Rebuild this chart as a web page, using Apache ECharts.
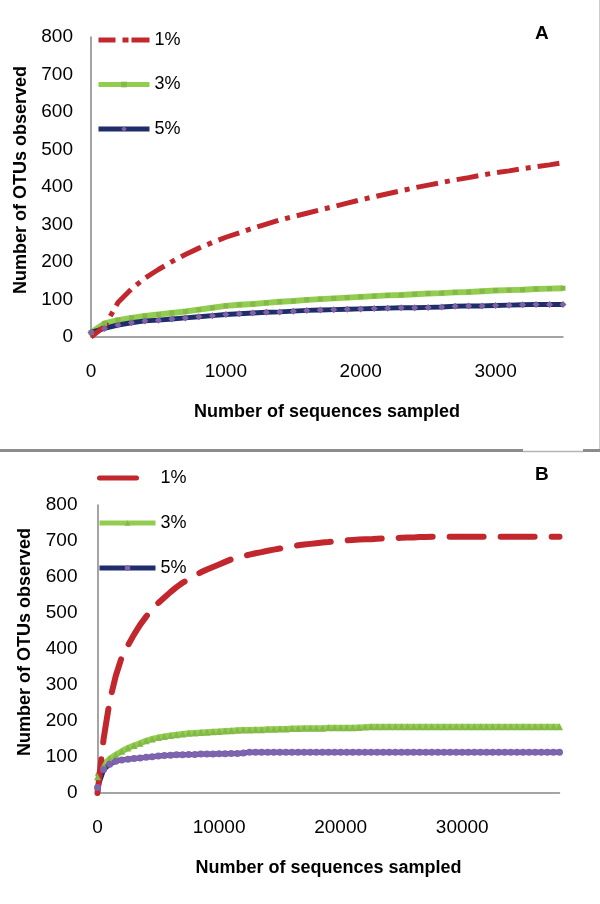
<!DOCTYPE html>
<html><head><meta charset="utf-8">
<script src="https://cdn.jsdelivr.net/npm/echarts@6/dist/echarts.min.js"></script>
<style>html,body{margin:0;padding:0;background:#fff}#c{width:600px;height:904px}</style>
</head><body><div id="c"></div>
<script>
// ---------- DATA ----------
const seriesLabels = ['1%', '3%', '5%'];
const panelTitles = ['A', 'B'];
const xTitle = 'Number of sequences sampled';
const yTitle = 'Number of OTUs observed';

// Panel A: sequences sampled (x) and OTUs observed
const xA = [0,100,200,300,400,500,600,700,800,900,1000,1100,1200,1300,1400,1500,1600,1700,1800,1900,2000,
            2100,2200,2300,2400,2500,2600,2700,2800,2900,3000,3100,3200,3300,3400,3500];
const a1 = [0,28,92,128,157,180,201,220,237,252,266,278,290,301,312,321,330,339,348,357,366,
            374,382,390,398,405,412,419,425,432,438,443,449,454,459,465];
const a3 = [12,36,45,51,56,60,64,68,73,78,83,86,88,91,94,96,99,101,103,105,107,
            109,111,112,114,116,117,119,120,122,124,125,126,128,129,130];
const a5 = [12,23,32,38,43,45,48,51,54,57,60,62,64,66,67,69,71,72,73,74,75,
            76,77,78,78,79,80,82,83,83,84,85,86,87,87,87];

// Panel B
const xB = [0,500,1000,1500,2000,2500,3000,3500,4000,4500,5000,5500,6000,6500,7000,7500,8000,8500,9000,9500,
            10000,10500,11000,11500,12000,12500,13000,13500,14000,14500,15000,15500,16000,16500,17000,17500,18000,18500,19000,19500,
            20000,20500,21000,21500,22000,22500,23000,23500,24000,24500,25000,25500,26000,26500,27000,27500,28000,28500,29000,29500,
            30000,30500,31000,31500,32000,32500,33000,33500,34000,34500,35000,35500,36000,36500,37000,37500,38000];
const b1 = [0,150,255,325,378,410,440,467,490,510,528,543,558,572,584,594,604,613,621,628,
            635,642,649,654,658,662,666,669,673,676,679,682,685,688,690,692,694,696,697,699,
            701,702,703,704,705,705,706,707,708,708,709,710,710,711,711,712,712,712,712,712,
            712,712,712,712,712,712,712,712,712,712,712,712,712,712,712,712,712];
const b3 = [45,78,95,106,116,125,132,138,145,150,154,157,160,162,164,166,167,168,169,170,
            171,172,173,174,175,175,176,176,177,177,178,178,179,179,180,180,180,180,181,181,
            181,181,181,182,183,184,184,184,184,184,184,184,184,184,184,184,184,184,184,184,
            184,184,184,184,184,184,184,184,184,184,184,184,184,184,184,184,184];
const b5 = [15,65,80,88,92,94,96,97,99,101,103,104,105,106,106,107,107,108,108,108,
            109,109,110,110,111,113,113,113,113,113,113,113,113,113,113,113,113,113,113,113,
            113,113,113,113,113,113,113,113,113,113,113,113,113,113,113,113,113,113,113,113,
            113,113,113,113,113,113,113,113,113,113,113,113,113,113,113,113,113];

// ---------- CHART ----------
const FONT = 'Liberation Sans';
const pair = (xs, ys) => xs.map((x, i) => [x, ys[i]]);
const RED = '#C1272D', GREEN = '#92CD50', GREEN_M = '#84B848', NAVY = '#1F2D6B', PURPLE = '#8064A2', PURPLE_B = '#7E63AE';

function xAxisCfg(idx, max, interval) {
  return {
    type: 'value', gridIndex: idx, min: 0, max: max, interval: interval,
    axisLine: {show: true, lineStyle: {color: '#868686', width: 1.5}},
    axisTick: {show: false}, splitLine: {show: false},
    axisLabel: {margin: 25, fontSize: 19, color: '#000', fontFamily: FONT, showMaxLabel: false,
                formatter: v => String(v)},
    name: xTitle, nameLocation: 'middle', nameGap: 66,
    nameTextStyle: {fontSize: 18, fontWeight: 'bold', color: '#000', fontFamily: FONT}
  };
}
function yAxisCfg(idx, margin, gap) {
  return {
    type: 'value', gridIndex: idx, min: 0, max: 800, interval: 100,
    axisLine: {show: true, lineStyle: {color: '#868686', width: 1.5}},
    axisTick: {show: false}, splitLine: {show: false},
    axisLabel: {margin: margin, fontSize: 19, color: '#000', fontFamily: FONT},
    name: yTitle, nameLocation: 'middle', nameGap: gap, nameRotate: 90,
    nameTextStyle: {fontSize: 18, fontWeight: 'bold', color: '#000', fontFamily: FONT, padding: [0, 0, 0, 14]}
  };
}
const nm = (p, i) => p + ' ' + seriesLabels[i];

const option = {
  animation: false,
  backgroundColor: '#fff',
  grid: [
    {left: 91, top: 37, width: 472, height: 300},
    {left: 97.5, top: 505, width: 462, height: 288}
  ],
  xAxis: [xAxisCfg(0, 3500, 1000), xAxisCfg(1, 38000, 10000)],
  yAxis: [yAxisCfg(0, 18, 60), yAxisCfg(1, 20, 63)],
  legend: [
    {data: [{name: nm('A',0), lineStyle: {type: [17, 7, 6, 3, 18, 10]}}, nm('A',1), nm('A',2)], formatter: n => n.slice(2), orient: 'vertical',
     left: 96, top: 31, padding: 0, itemWidth: 51, itemHeight: 7, itemGap: 26.5, itemTextGap: 11, selectedMode: false,
     lineStyle: {width: 5},
     textStyle: {fontSize: 18, lineHeight: 18, color: '#000', fontFamily: FONT}},
    {data: [{name: nm('B',0), lineStyle: {type: [37, 40]}}, nm('B',1), nm('B',2)], formatter: n => n.slice(2), orient: 'vertical',
     left: 97, top: 469, padding: 0, itemWidth: 56, itemHeight: 7, itemGap: 27, itemTextGap: 5, selectedMode: false,
     lineStyle: {width: 5},
     textStyle: {fontSize: 18, lineHeight: 18, color: '#000', fontFamily: FONT}}
  ],
  series: [
    {name: nm('A',1), type: 'line', xAxisIndex: 0, yAxisIndex: 0, data: pair(xA, a3),
     symbol: 'rect', symbolSize: 5, itemStyle: {color: GREEN_M}, lineStyle: {color: GREEN, width: 6}},
    {name: nm('A',2), type: 'line', xAxisIndex: 0, yAxisIndex: 0, data: pair(xA, a5),
     symbol: 'diamond', symbolSize: 7, itemStyle: {color: PURPLE}, lineStyle: {color: NAVY, width: 5}},
    {name: nm('A',0), type: 'line', xAxisIndex: 0, yAxisIndex: 0, data: pair(xA, a1),
     symbol: 'none', itemStyle: {color: 'rgba(0,0,0,0)'}, lineStyle: {color: RED, width: 5, type: [22, 7, 5, 7], cap: 'butt'}},
    {name: nm('B',1), type: 'line', xAxisIndex: 1, yAxisIndex: 1, data: pair(xB, b3),
     symbol: 'triangle', symbolSize: 7, itemStyle: {color: GREEN_M}, lineStyle: {color: GREEN, width: 6}},
    {name: nm('B',2), type: 'line', xAxisIndex: 1, yAxisIndex: 1, data: pair(xB, b5),
     symbol: 'circle', symbolSize: 7, itemStyle: {color: PURPLE_B}, lineStyle: {color: NAVY, width: 5}},
    {name: nm('B',0), type: 'line', xAxisIndex: 1, yAxisIndex: 1, data: pair(xB, b1),
     symbol: 'none', itemStyle: {color: 'rgba(0,0,0,0)'}, lineStyle: {color: RED, width: 6, type: [34, 17], cap: 'round'}}
  ],
  graphic: [
    {type: 'text', left: 535, top: 24, style: {text: panelTitles[0], font: 'bold 19px "Liberation Sans"', fill: '#000'}},
    {type: 'text', left: 535, top: 465, style: {text: panelTitles[1], font: 'bold 19px "Liberation Sans"', fill: '#000'}},
    {type: 'line', shape: {x1: 0, y1: 450.5, x2: 523, y2: 450.5}, style: {stroke: '#8c8c8c', lineWidth: 3}},
    {type: 'line', shape: {x1: 523, y1: 451.5, x2: 583, y2: 451.5}, style: {stroke: '#b4b4b4', lineWidth: 1.5}},
    {type: 'line', shape: {x1: 583, y1: 450.5, x2: 600, y2: 450.5}, style: {stroke: '#8c8c8c', lineWidth: 3}},
    {type: 'line', shape: {x1: 599.5, y1: 0, x2: 599.5, y2: 449}, style: {stroke: '#cccccc', lineWidth: 1}}
  ]
};
const chart = echarts.init(document.getElementById('c'), null, {renderer: 'canvas'});
chart.setOption(option);
</script>
</body></html>
